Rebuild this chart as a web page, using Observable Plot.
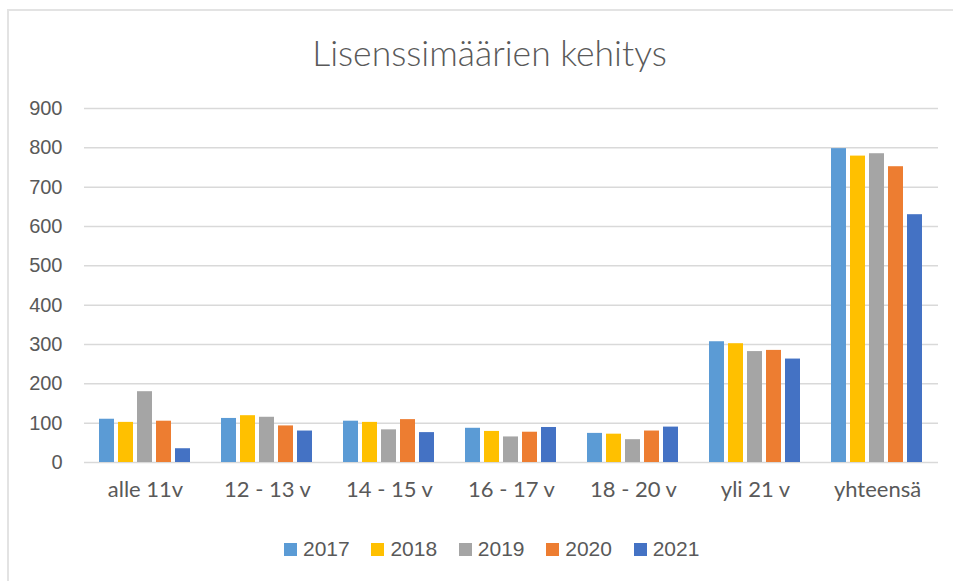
<!DOCTYPE html>
<html>
<head>
<meta charset="utf-8">
<script src="https://cdn.jsdelivr.net/npm/d3@7"></script>
<script src="https://cdn.jsdelivr.net/npm/@observablehq/plot@0.6"></script>
<style>
  html, body { margin: 0; padding: 0; background: #fff; }
  #wrap { position: relative; width: 953px; height: 581px; overflow: hidden; }
  #frame { position: absolute; left: 7px; top: 9px; right: -4px; bottom: -4px;
           border-top: 2px solid #e3e3e3; border-left: 2px solid #e3e3e3; }
  #title { position: relative; height: 90px; box-sizing: border-box; padding-top: 32px; padding-left: 26px;
           text-align: center; font-family: Lato, "Open Sans", sans-serif; font-weight: 300;
           font-size: 35.5px; line-height: 42px; color: #595959; }
  #chart svg { display: block; }
  #chart g[aria-label^="y-axis"] text { font-family: "Liberation Sans", Arial, sans-serif; font-size: 20px; fill: #595959; }
  #chart g[aria-label^="fx-axis"] text { font-family: Lato, "Open Sans", sans-serif; font-size: 22px; fill: #595959; }
  #legend { position: relative; display: flex; align-items: center; padding-left: 284px; padding-top: 22px;
            font-family: "Liberation Sans", Arial, sans-serif; font-size: 21px; color: #595959; }
  .item { display: flex; align-items: center; margin-right: 21.7px; }
  .sw { width: 13px; height: 13px; margin-right: 6px; }
</style>
</head>
<body>
<div id="wrap">
  <div id="frame"></div>
  <div id="title">Lisenssimäärien kehitys</div>
  <div id="chart"></div>
  <div id="legend"></div>
</div>
<script>
const categories = ["alle 11v", "12 - 13 v", "14 - 15 v", "16 - 17 v", "18 - 20 v", "yli 21 v", "yhteensä"];
const years = ["2017", "2018", "2019", "2020", "2021"];
const v2017 = [110, 112, 105, 87, 74, 307, 798];
const v2018 = [102, 119, 102, 79, 72, 302, 779];
const v2019 = [180, 115, 83, 65, 58, 282, 785];
const v2020 = [105, 93, 109, 77, 80, 285, 752];
const v2021 = [35, 80, 76, 89, 90, 263, 630];
const yTicks = [0, 100, 200, 300, 400, 500, 600, 700, 800, 900];
const colors = ["#5B9BD5", "#FFC000", "#A5A5A5", "#ED7D31", "#4472C4"];

const series = [v2017, v2018, v2019, v2020, v2021];
const data = [];
categories.forEach((c, i) => {
  years.forEach((y, j) => data.push({category: c, year: y, value: series[j][i]}));
});

const chart = Plot.plot({
  width: 953,
  height: 425,
  marginTop: 18,
  marginBottom: 53,
  marginLeft: 84,
  marginRight: 15,
  style: {background: "transparent", color: "#595959", overflow: "visible"},
  fx: {domain: categories, padding: 0, label: null, tickSize: 0, tickPadding: 19, axis: "bottom"},
  x: {domain: years, paddingInner: 0.2, paddingOuter: 0.81, axis: null},
  y: {domain: [0, 900], ticks: yTicks, tickFormat: d => String(d), tickSize: 0, tickPadding: 22, label: null},
  color: {domain: years, range: colors},
  marks: [
    Plot.ruleY(yTicks, {stroke: "#d9d9d9", strokeWidth: 1.5}),
    Plot.barY(data, {fx: "category", x: "year", y: "value", fill: "year"})
  ]
});
document.getElementById("chart").appendChild(chart);

const legend = document.getElementById("legend");
years.forEach((y, j) => {
  const it = document.createElement("div");
  it.className = "item";
  const sw = document.createElement("div");
  sw.className = "sw";
  sw.style.background = colors[j];
  const t = document.createElement("span");
  t.textContent = y;
  it.appendChild(sw);
  it.appendChild(t);
  legend.appendChild(it);
});
</script>
</body>
</html>
